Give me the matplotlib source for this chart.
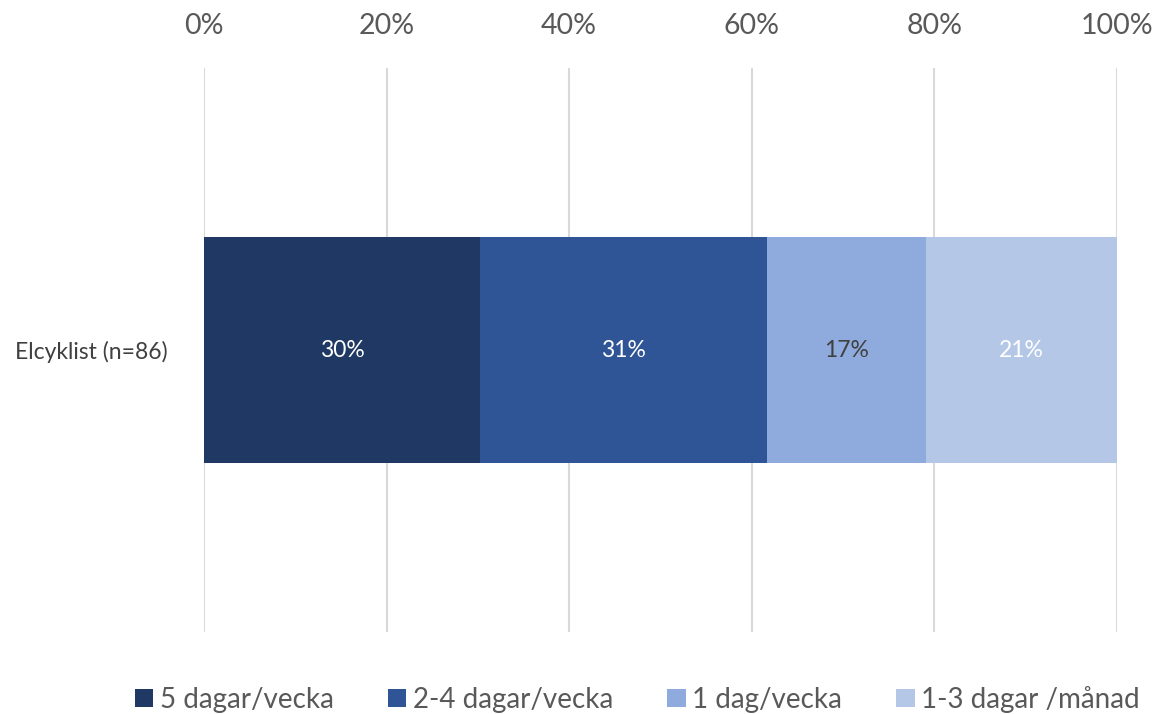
import matplotlib.pyplot as plt

plt.rcParams['font.family'] = ['Lato', 'DejaVu Sans']

category = 'Elcyklist (n=86)'
series = ['5 dagar/vecka', '2-4 dagar/vecka', '1 dag/vecka', '1-3 dagar /månad']
counts = [26, 27, 15, 18]
colors = ['#203864', '#2F5597', '#8FAADC', '#B4C7E7']
label_colors = ['white', 'white', '#404040', 'white']
xticks = [0, 20, 40, 60, 80, 100]

total = sum(counts)
shares = [c / total * 100 for c in counts]

fig = plt.figure(figsize=(11.55, 7.14), dpi=100)
ax = fig.add_axes([0.1766, 0.1148, 0.7905, 0.79])

left = 0
for s, v, c, lc in zip(series, shares, colors, label_colors):
    ax.barh(0, v, left=left, height=0.4, color=c, label=s, zorder=3)
    ax.text(left + v / 2, 0, f'{round(v)}%', ha='center', va='center',
            color=lc, fontsize=16.5, zorder=4)
    left += v

ax.set_xlim(0, 100)
ax.set_ylim(-0.5, 0.5)
ax.set_xticks(xticks)
ax.set_xticklabels([f'{t}%' for t in xticks])
ax.set_yticks([0])
ax.set_yticklabels([category])
ax.xaxis.tick_top()
ax.tick_params(axis='x', length=0, pad=21, labelsize=20.5, labelcolor='#595959')
ax.tick_params(axis='y', length=0, pad=26, labelsize=16.5, labelcolor='#404040')
ax.grid(axis='x', color='#d9d9d9', linewidth=1.5, zorder=0)
for sp in ax.spines.values():
    sp.set_visible(False)

fig.legend(loc='lower center', bbox_to_anchor=(0.552, -0.033), ncol=4,
           frameon=False, fontsize=20, handlelength=0.65, handleheight=0.65,
           handletextpad=0.25, columnspacing=1.95, labelcolor='#595959')

fig.savefig('out.png', dpi=100)
